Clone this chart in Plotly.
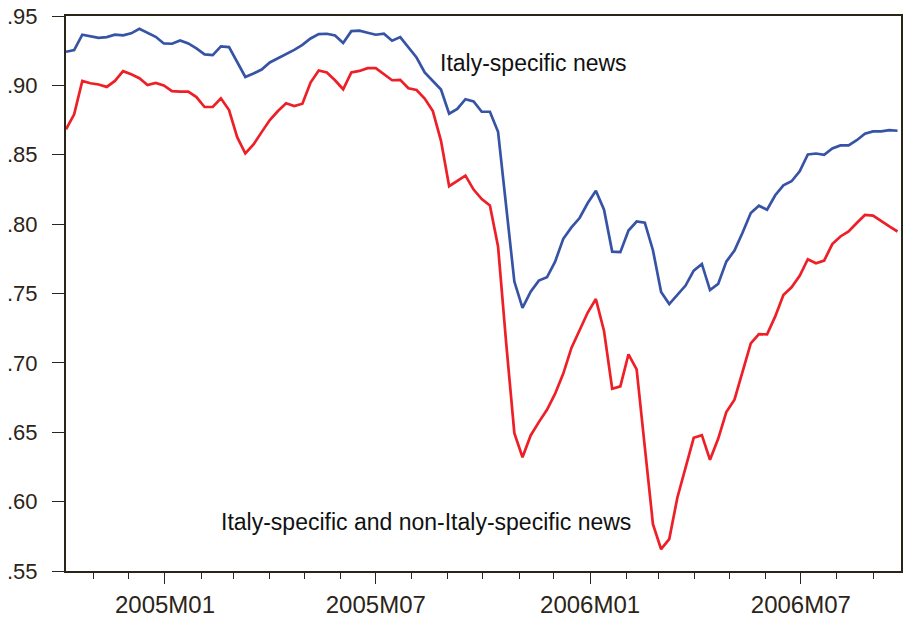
import pandas as pd
import plotly.graph_objects as go

# Weekly observations, 8 Oct 2004 to 22 Sep 2006
dates = pd.date_range("2004-10-08", periods=103, freq="7D")

italy_specific = [
    0.9242, 0.9254, 0.9365, 0.9353, 0.9343, 0.9348, 0.9365, 0.9360, 0.9375, 0.9408,
    0.9377, 0.9350, 0.9302, 0.9300, 0.9324, 0.9302, 0.9266, 0.9223, 0.9218, 0.9281,
    0.9276, 0.9165, 0.9061, 0.9086, 0.9114, 0.9165, 0.9196, 0.9223, 0.9256, 0.9292,
    0.9338, 0.9370, 0.9372, 0.9360, 0.9305, 0.9391, 0.9394, 0.9379, 0.9365, 0.9372,
    0.9322, 0.9348, 0.9273, 0.9201, 0.9093, 0.9032, 0.8970, 0.8796, 0.8830, 0.8900,
    0.8885, 0.8810, 0.8810, 0.8666, 0.8120, 0.7586, 0.7397, 0.7513, 0.7593, 0.7617,
    0.7730, 0.7894, 0.7976, 0.8044, 0.8152, 0.8241, 0.8104, 0.7802, 0.7798, 0.7954,
    0.8019, 0.8010, 0.7812, 0.7511, 0.7424, 0.7494, 0.7557, 0.7665, 0.7713, 0.7525,
    0.7569, 0.7730, 0.7810, 0.7940, 0.8080, 0.8133, 0.8104, 0.8208, 0.8280, 0.8309,
    0.8381, 0.8502, 0.8509, 0.8500, 0.8545, 0.8567, 0.8567, 0.8605, 0.8652, 0.8668,
    0.8668, 0.8678, 0.8673,
]

italy_and_non_italy = [
    0.8683, 0.8791, 0.9032, 0.9015, 0.9006, 0.8989, 0.9032, 0.9102, 0.9080, 0.9052,
    0.9003, 0.9018, 0.8999, 0.8958, 0.8955, 0.8955, 0.8916, 0.8844, 0.8844, 0.8907,
    0.8822, 0.8627, 0.8509, 0.8574, 0.8663, 0.8750, 0.8815, 0.8871, 0.8851, 0.8868,
    0.9020, 0.9107, 0.9093, 0.9037, 0.8972, 0.9093, 0.9104, 0.9124, 0.9124, 0.9080,
    0.9037, 0.9040, 0.8979, 0.8967, 0.8905, 0.8815, 0.8600, 0.8273, 0.8309, 0.8350,
    0.8249, 0.8181, 0.8135, 0.7839, 0.7140, 0.6493, 0.6320, 0.6477, 0.6573, 0.6662,
    0.6778, 0.6923, 0.7108, 0.7236, 0.7363, 0.7460, 0.7230, 0.6814, 0.6831, 0.7062,
    0.6953, 0.6395, 0.5838, 0.5657, 0.5730, 0.6030, 0.6247, 0.6460, 0.6479, 0.6301,
    0.6453, 0.6645, 0.6735, 0.6947, 0.7140, 0.7207, 0.7205, 0.7335, 0.7489, 0.7545,
    0.7627, 0.7747, 0.7718, 0.7737, 0.7856, 0.7911, 0.7947, 0.8008, 0.8066, 0.8061,
    0.8019, 0.7983, 0.7947,
]

y_ticks = [0.55, 0.60, 0.65, 0.70, 0.75, 0.80, 0.85, 0.90, 0.95]
y_tick_labels = [".55", ".60", ".65", ".70", ".75", ".80", ".85", ".90", ".95"]
x_ticks = ["2005-01-01", "2005-07-01", "2006-01-01", "2006-07-01"]
x_tick_labels = ["2005M01", "2005M07", "2006M01", "2006M07"]

BLUE = "#3753a5"
RED = "#ee1f26"
INK = "#2b2418"
FONT = "Liberation Sans, Arial, Helvetica, sans-serif"

fig = go.Figure()
fig.add_trace(go.Scatter(x=dates, y=italy_specific, mode="lines",
                         line=dict(color=BLUE, width=2.7), showlegend=False))
fig.add_trace(go.Scatter(x=dates, y=italy_and_non_italy, mode="lines",
                         line=dict(color=RED, width=2.7), showlegend=False))

fig.add_annotation(x="2005-08-23", y=0.916, text="Italy-specific news",
                   xanchor="left", yanchor="middle", showarrow=False,
                   font=dict(family=FONT, size=23, color="#111111"))
fig.add_annotation(x="2005-02-16", y=0.5853,
                   text="Italy-specific and non-Italy-specific news",
                   xanchor="left", yanchor="middle", showarrow=False,
                   font=dict(family=FONT, size=23, color="#111111"))

fig.update_xaxes(
    type="date",
    range=["2004-10-08", "2006-09-25"],
    tickvals=x_ticks, ticktext=x_tick_labels,
    ticks="outside", ticklen=11, tickwidth=1.2, tickcolor=INK,
    minor=dict(dtick="M1", tick0="2005-01-01", ticks="outside",
               ticklen=6, tickwidth=1.2, tickcolor=INK, showgrid=False),
    showline=True, linecolor=INK, linewidth=2, mirror=True,
    showgrid=False, zeroline=False,
    tickfont=dict(family=FONT, size=24, color=INK),
)
fig.update_yaxes(
    range=[0.55, 0.95],
    tickvals=y_ticks, ticktext=y_tick_labels,
    ticks="outside", ticklen=12, tickwidth=1.2, tickcolor=INK,
    ticklabelstandoff=10,
    showline=True, linecolor=INK, linewidth=2, mirror=True,
    showgrid=False, zeroline=False,
    tickfont=dict(family=FONT, size=22, color=INK),
)

fig.update_layout(
    width=903, height=618,
    margin=dict(l=66, r=0, t=16, b=46, pad=0),
    paper_bgcolor="white", plot_bgcolor="white",
)

fig.write_html("out.html")
